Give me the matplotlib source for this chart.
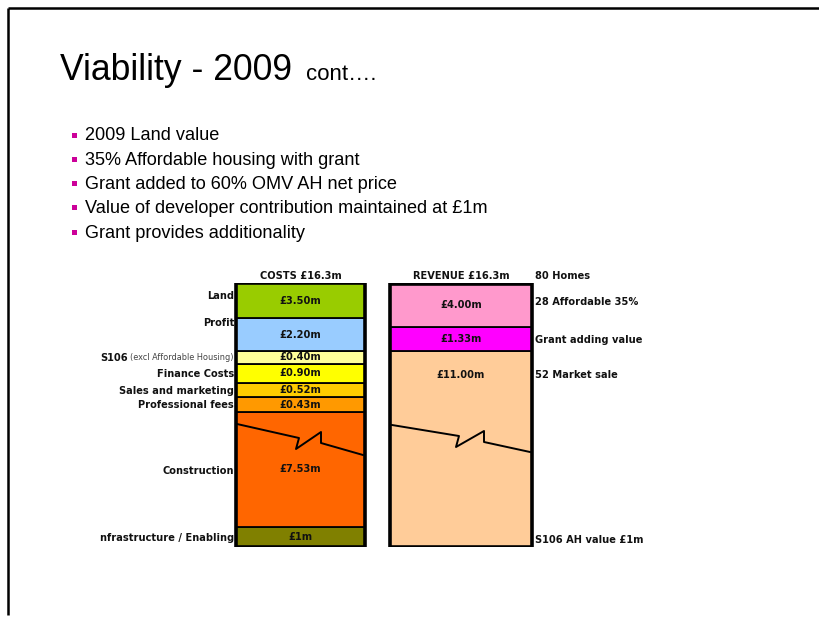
import matplotlib
matplotlib.use("Agg")
import matplotlib.pyplot as plt
from matplotlib.patches import Rectangle

# ---------------- data ----------------
title_main = "Viability - 2009"
title_sub = "cont…."
bullets = [
    "2009 Land value",
    "35% Affordable housing with grant",
    "Grant added to 60% OMV AH net price",
    "Value of developer contribution maintained at £1m",
    "Grant provides additionality",
]

# costs, listed bottom -> top
cost_names = ["nfrastructure / Enabling", "Construction", "Professional fees",
              "Sales and marketing", "Finance Costs", "S106", "Profit", "Land"]
cost_values = ["£1m", "£7.53m", "£0.43m", "£0.52m", "£0.90m", "£0.40m", "£2.20m", "£3.50m"]
# drawn (schematic, broken-scale) segment heights
cost_heights = [20, 115, 15, 14, 19, 13, 33, 35]
cost_colors = ["#808000", "#FF6600", "#FF9900", "#FFCC00", "#FFFF00",
               "#FFFF99", "#99CCFF", "#99CC00"]

# revenue, listed bottom -> top
rev_names = ["52 Market sale", "Grant adding value", "28 Affordable 35%"]
rev_values = ["£11.00m", "£1.33m", "£4.00m"]
rev_heights = [196, 24, 43]
rev_colors = ["#FFCC99", "#FF00FF", "#FF99CC"]

cost_title = "COSTS £16.3m"
rev_title = "REVENUE £16.3m"
homes_label = "80 Homes"
s106_note = "S106 AH value £1m"
s106_sub = "(excl Affordable Housing)"

# ---------------- figure ----------------
W, H = 819, 617
fig = plt.figure(figsize=(W / 100, H / 100), dpi=100)
fig.patch.set_facecolor("white")

# overlay axes in pixel coordinates
ov = fig.add_axes([0, 0, 1, 1])
ov.set_xlim(0, W)
ov.set_ylim(H, 0)
ov.axis("off")

# slide border (left & top)
ov.plot([8, 8], [615, 8], color="black", lw=1.8, solid_capstyle="butt")
ov.plot([8, 819], [8, 8], color="black", lw=1.8, solid_capstyle="butt")

# title
ov.text(60, 80, title_main, fontsize=25.6, family="Liberation Sans",
        va="baseline", ha="left")
ov.text(306, 80, title_sub, fontsize=16, family="Liberation Sans",
        va="baseline", ha="left")

# bullets
for i, b in enumerate(bullets):
    y = 136 + 24.3 * i
    ov.add_patch(Rectangle((72, y - 3.5), 5, 5, color="#CC0099", lw=0))
    ov.text(85, y, b, fontsize=13.1, family="Liberation Sans", va="center", ha="left")

# chart axes: y=0 at pixel 547, 1 unit = 1 pixel
bottom_px, top_px = 547, 283
cax = fig.add_axes([0, (H - bottom_px) / H, 1, (bottom_px - top_px) / H])
cax.set_xlim(0, W)
cax.set_ylim(0, bottom_px - top_px)
cax.axis("off")
cax.patch.set_alpha(0)

bars = [
    (300.5, 129, cost_heights, cost_colors, cost_values),
    (461, 142, rev_heights, rev_colors, rev_values),
]
lab_kw = dict(fontsize=7.1, family="DejaVu Sans", fontweight="bold", color="#111111")
for xc, w, hs, cs, vals in bars:
    bottom = 0
    for h, c in zip(hs, cs):
        cax.bar(xc, h, width=w, bottom=bottom, color=c, edgecolor="black",
                linewidth=1.3)
        bottom += h
    cax.add_patch(Rectangle((xc - w / 2, 0), w, bottom, fill=False,
                            edgecolor="black", lw=2.6))

# cost value labels at segment centres
b = 0
for h, v in zip(cost_heights, cost_values):
    cax.text(300.5, b + h / 2, v, ha="center", va="center", **lab_kw)
    b += h
# revenue value labels
b = 0
for i, (h, v) in enumerate(zip(rev_heights, rev_values)):
    yy = b + h / 2 if i > 0 else b + h - 24
    cax.text(461, yy, v, ha="center", va="center", **lab_kw)
    b += h

# break marks (drawn in chart coordinates, pixel offsets from chart bottom)
def brk(xs, ys):
    cax.plot(xs, [bottom_px - y for y in ys], color="black", lw=1.4, zorder=5)

brk([237, 299, 296, 321, 321, 363], [424, 438, 449, 432, 443, 455])
brk([392, 459, 456, 484, 484, 530], [425, 436, 447, 431, 442, 452])

# column titles
ov.text(300.5, 276, cost_title, ha="center", va="center", **lab_kw)
ov.text(461, 276, rev_title, ha="center", va="center", **lab_kw)
ov.text(535, 276, homes_label, ha="left", va="center", **lab_kw)

# left cost labels
left_y = {"Land": 296, "Profit": 323, "S106": 358, "Finance Costs": 374,
          "Sales and marketing": 391, "Professional fees": 405,
          "Construction": 471, "nfrastructure / Enabling": 538}
for name in cost_names:
    if name == "S106":
        ov.text(234, left_y[name], s106_sub, ha="right", va="center",
                fontsize=5.9, family="DejaVu Sans", color="#444444")
        ov.text(128, left_y[name], name, ha="right", va="center", **lab_kw)
    else:
        ov.text(234, left_y[name], name, ha="right", va="center", **lab_kw)

# right revenue labels
right_y = [375, 340, 302]
for name, yy in zip(rev_names, right_y):
    ov.text(535, yy, name, ha="left", va="center", **lab_kw)
ov.text(535, 540, s106_note, ha="left", va="center", **lab_kw)

fig.savefig("out.png", dpi=100, facecolor="white")
